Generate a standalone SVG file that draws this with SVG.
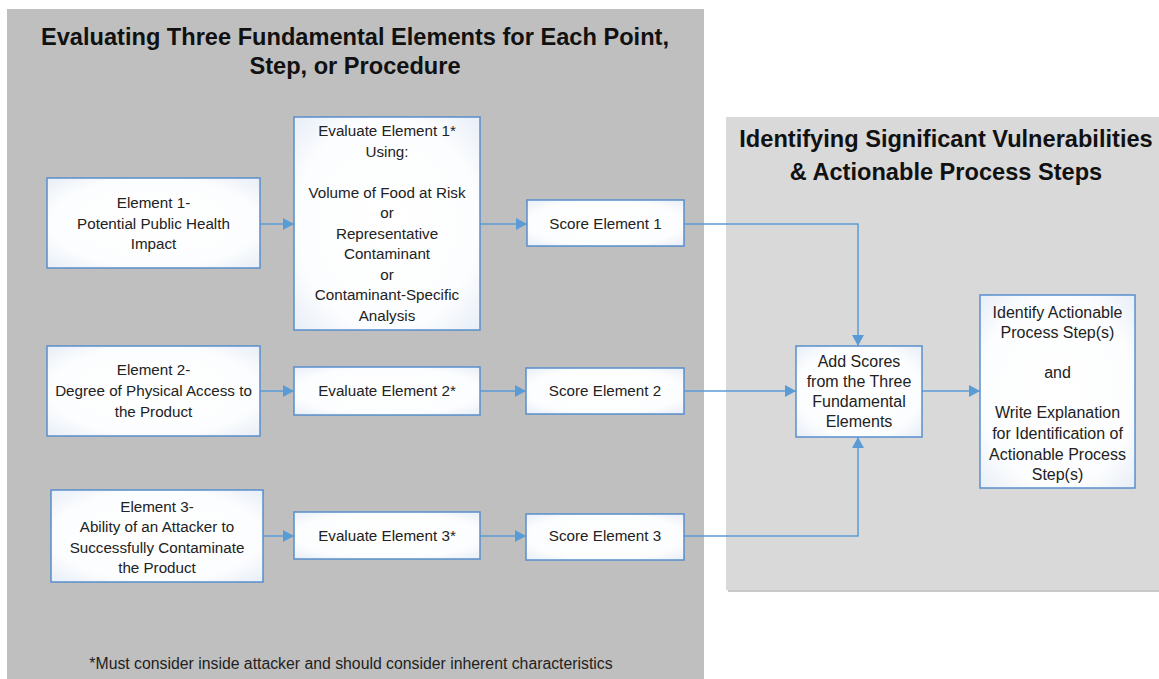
<svg xmlns="http://www.w3.org/2000/svg" width="1159" height="679" viewBox="0 0 1159 679">
  <defs>
    <radialGradient id="boxfill" cx="50%" cy="50%" r="75%">
      <stop offset="0%" stop-color="#ffffff"/>
      <stop offset="65%" stop-color="#fcfdfe"/>
      <stop offset="100%" stop-color="#e3ebf6"/>
    </radialGradient>
    <marker id="arrow" markerUnits="userSpaceOnUse" markerWidth="12" markerHeight="12" refX="11" refY="6" orient="auto">
      <path d="M0,0 L11,6 L0,12 z" fill="#5b9bd5"/>
    </marker>
    <style>
      .box { fill: url(#boxfill); stroke: #5a8fcc; stroke-width: 1.5; }
      .t { font-family: "Liberation Sans", Arial, sans-serif; font-size: 15.2px; fill: #222; text-anchor: middle; }
      .tr { font-family: "Liberation Sans", Arial, sans-serif; font-size: 16px; fill: #222; text-anchor: middle; }
      .title { font-family: "Liberation Sans", Arial, sans-serif; font-size: 23.6px; font-weight: bold; fill: #111; text-anchor: middle; }
      .note { font-family: "Liberation Sans", Arial, sans-serif; font-size: 15.8px; fill: #222; text-anchor: middle; }
      .conn { fill: none; stroke: #5b9bd5; stroke-width: 1.5; marker-end: url(#arrow); }
    </style>
  </defs>

  <rect x="0" y="0" width="1159" height="679" fill="#ffffff"/>

  <!-- Panels -->
  <g id="panel-left">
    <rect x="7" y="9" width="697" height="680" fill="#bfbfbf"/>
    <text class="title" x="355" y="45">Evaluating Three Fundamental Elements for Each Point,</text>
    <text class="title" x="355" y="74">Step, or Procedure</text>
    <text class="note" x="351" y="669">*Must consider inside attacker and should consider inherent characteristics</text>
  </g>
  <g id="panel-right">
    <rect x="728" y="119" width="440" height="473" fill="#c8c8c8"/>
    <rect x="726" y="117" width="440" height="473" fill="#d9d9d9"/>
    <text class="title" x="946" y="147">Identifying Significant Vulnerabilities</text>
    <text class="title" x="946" y="180">&amp; Actionable Process Steps</text>
  </g>

  <!-- Connectors -->
  <g id="connectors">
    <path class="conn" d="M260,224 L294,224"/>
    <path class="conn" d="M480,224 L527,224"/>
    <path class="conn" d="M684,224 L858,224 L858,346"/>
    <path class="conn" d="M260,391 L294,391"/>
    <path class="conn" d="M480,391 L526,391"/>
    <path class="conn" d="M684,391 L796,391"/>
    <path class="conn" d="M263,536 L294,536"/>
    <path class="conn" d="M480,536 L526,536"/>
    <path class="conn" d="M684,536 L858,536 L858,437"/>
    <path class="conn" d="M922,391 L980,391"/>
  </g>

  <!-- Nodes -->
  <g id="element1">
    <rect class="box" x="47" y="178" width="213" height="90"/>
    <text class="t" x="153.5" y="208">Element 1-</text>
    <text class="t" x="153.5" y="229">Potential Public Health</text>
    <text class="t" x="153.5" y="249">Impact</text>
  </g>
  <g id="evaluate1">
    <rect class="box" x="294" y="117" width="186" height="213"/>
    <text class="t" x="387" y="136">Evaluate Element 1*</text>
    <text class="t" x="387" y="156.5">Using:</text>
    <text class="t" x="387" y="197.5">Volume of Food at Risk</text>
    <text class="t" x="387" y="218">or</text>
    <text class="t" x="387" y="238.5">Representative</text>
    <text class="t" x="387" y="259">Contaminant</text>
    <text class="t" x="387" y="279.5">or</text>
    <text class="t" x="387" y="300">Contaminant-Specific</text>
    <text class="t" x="387" y="320.5">Analysis</text>
  </g>
  <g id="score1">
    <rect class="box" x="527" y="200" width="157" height="46"/>
    <text class="t" x="605.5" y="229">Score Element 1</text>
  </g>

  <g id="element2">
    <rect class="box" x="47" y="346" width="213" height="90"/>
    <text class="t" x="153.5" y="375">Element 2-</text>
    <text class="t" x="153.5" y="396">Degree of Physical Access to</text>
    <text class="t" x="153.5" y="417">the Product</text>
  </g>
  <g id="evaluate2">
    <rect class="box" x="294" y="367" width="186" height="48"/>
    <text class="t" x="387" y="396">Evaluate Element 2*</text>
  </g>
  <g id="score2">
    <rect class="box" x="526" y="368" width="158" height="46"/>
    <text class="t" x="605" y="396">Score Element 2</text>
  </g>

  <g id="element3">
    <rect class="box" x="51" y="490" width="212" height="92"/>
    <text class="t" x="157" y="512">Element 3-</text>
    <text class="t" x="157" y="532">Ability of an Attacker to</text>
    <text class="t" x="157" y="553">Successfully Contaminate</text>
    <text class="t" x="157" y="573">the Product</text>
  </g>
  <g id="evaluate3">
    <rect class="box" x="294" y="512" width="186" height="47"/>
    <text class="t" x="387" y="541">Evaluate Element 3*</text>
  </g>
  <g id="score3">
    <rect class="box" x="526" y="514" width="158" height="46"/>
    <text class="t" x="605" y="541">Score Element 3</text>
  </g>

  <g id="add-scores">
    <rect class="box" x="796" y="346" width="126" height="91"/>
    <text class="tr" x="859" y="367">Add Scores</text>
    <text class="tr" x="859" y="387">from the Three</text>
    <text class="tr" x="859" y="407">Fundamental</text>
    <text class="tr" x="859" y="427">Elements</text>
  </g>
  <g id="identify">
    <rect class="box" x="980" y="295" width="155" height="193"/>
    <text class="tr" x="1057.5" y="318">Identify Actionable</text>
    <text class="tr" x="1057.5" y="338">Process Step(s)</text>
    <text class="tr" x="1057.5" y="378">and</text>
    <text class="tr" x="1057.5" y="418">Write Explanation</text>
    <text class="tr" x="1057.5" y="439">for Identification of</text>
    <text class="tr" x="1057.5" y="460">Actionable Process</text>
    <text class="tr" x="1057.5" y="480">Step(s)</text>
  </g>
</svg>
